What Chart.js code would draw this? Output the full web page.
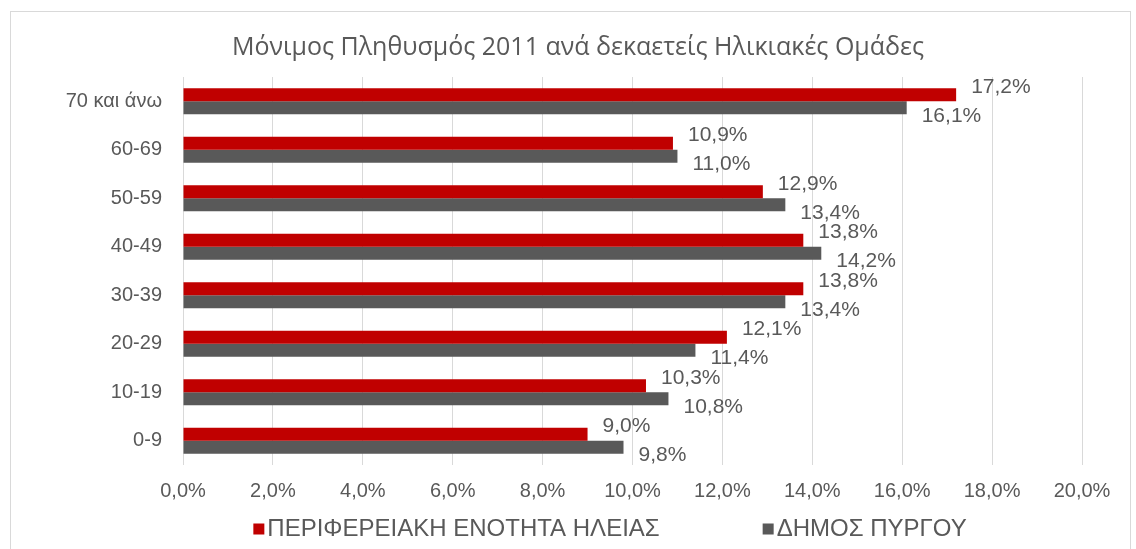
<!DOCTYPE html>
<html lang="el">
<head>
    <meta charset="UTF-8">
    <title>Μόνιμος Πληθυσμός 2011</title>
    <script src="https://cdn.jsdelivr.net/npm/chart.js"></script>
    <style>
        html, body { margin: 0; padding: 0; background: #fff; }
        #wrap { width: 1136px; height: 549px; position: relative; }
    </style>
</head>
<body>
<div id="wrap"><canvas id="ageChart" width="1136" height="549"></canvas></div>
<script>
    // ηλικιακές ομάδες, από πάνω προς τα κάτω
    const ageGroups = ['70 και άνω', '60-69', '50-59', '40-49', '30-39', '20-29', '10-19', '0-9'];
    const ileia = [17.2, 10.9, 12.9, 13.8, 13.8, 12.1, 10.3, 9.0];
    const pyrgos = [16.1, 11.0, 13.4, 14.2, 13.4, 11.4, 10.8, 9.8];
    const xTicks = [0, 2, 4, 6, 8, 10, 12, 14, 16, 18, 20];

    const txt = '#595959';
    const arial = '"Liberation Sans", Arial, sans-serif';
    const fmt = v => v.toFixed(1).replace('.', ',') + '%';

    // ετικέτες τιμών δίπλα στις μπάρες
    const valueLabels = {
        id: 'valueLabels',
        afterDatasetsDraw(chart) {
            const ctx = chart.ctx;
            ctx.save();
            ctx.font = '21px ' + arial;
            ctx.fillStyle = txt;
            ctx.textBaseline = 'middle';
            ctx.textAlign = 'left';
            chart.data.datasets.forEach((ds, i) => {
                const meta = chart.getDatasetMeta(i);
                const dy = i === 0 ? -8 : 8;
                meta.data.forEach((bar, j) => {
                    ctx.fillText(fmt(ds.data[j]), bar.x + 15, bar.y + dy);
                });
            });
            ctx.restore();
        }
    };

    // πλαίσιο, τίτλος και υπόμνημα
    const decor = {
        id: 'decor',
        beforeDraw(chart) {
            const ctx = chart.ctx;
            ctx.save();
            ctx.strokeStyle = '#d9d9d9';
            ctx.lineWidth = 1;
            ctx.strokeRect(10.5, 11.5, 1120, 600);
            ctx.restore();
        },
        afterDraw(chart) {
            const ctx = chart.ctx;
            ctx.save();
            ctx.fillStyle = txt;
            ctx.textBaseline = 'middle';
            ctx.textAlign = 'center';
            ctx.font = '25px "Open Sans", "Noto Sans", sans-serif';
            ctx.fillText('Μόνιμος Πληθυσμός 2011 ανά δεκαετείς Ηλικιακές Ομάδες', 578, 48);

            ctx.font = '24px ' + arial;
            ctx.textAlign = 'left';
            const box = 11, gap = 103, sp = 3;
            const items = chart.data.datasets.map(ds => ({
                label: ds.label, color: ds.backgroundColor,
                w: box + sp + ctx.measureText(ds.label).width
            }));
            const total = items.reduce((a, it) => a + it.w, 0) + gap * (items.length - 1);
            let x = 610 - total / 2;
            const y = 529;
            items.forEach(it => {
                ctx.fillStyle = it.color;
                ctx.fillRect(x, y - box / 2, box, box);
                ctx.fillStyle = txt;
                ctx.fillText(it.label, x + box + sp, y);
                x += it.w + gap;
            });
            ctx.restore();
        }
    };

    new Chart(document.getElementById('ageChart'), {
        type: 'bar',
        data: {
            labels: ageGroups,
            datasets: [
                { label: 'ΠΕΡΙΦΕΡΕΙΑΚΗ ΕΝΟΤΗΤΑ ΗΛΕΙΑΣ', data: ileia, backgroundColor: '#c00000' },
                { label: 'ΔΗΜΟΣ ΠΥΡΓΟΥ', data: pyrgos, backgroundColor: '#595959' }
            ]
        },
        options: {
            indexAxis: 'y',
            responsive: false,
            animation: false,
            categoryPercentage: 0.536,
            barPercentage: 1.0,
            layout: { padding: { top: 77, left: 10, right: 54, bottom: 44 } },
            scales: {
                x: {
                    min: 0, max: 20,
                    afterBuildTicks: s => { s.ticks = xTicks.map(v => ({ value: v })); },
                    afterFit: s => { s.height = 40; },
                    ticks: {
                        callback: v => fmt(v),
                        color: txt,
                        font: { family: arial, size: 20 },
                        padding: 14,
                        maxRotation: 0
                    },
                    grid: { color: '#d9d9d9', drawTicks: false },
                    border: { display: false }
                },
                y: {
                    afterFit: s => { s.width = 173; },
                    ticks: {
                        color: txt,
                        font: { family: arial, size: 20 },
                        padding: 21
                    },
                    grid: { display: false, drawTicks: false },
                    border: { display: false }
                }
            },
            plugins: {
                title: { display: false },
                legend: { display: false },
                tooltip: { enabled: false }
            }
        },
        plugins: [decor, valueLabels]
    });
</script>
</body>
</html>
